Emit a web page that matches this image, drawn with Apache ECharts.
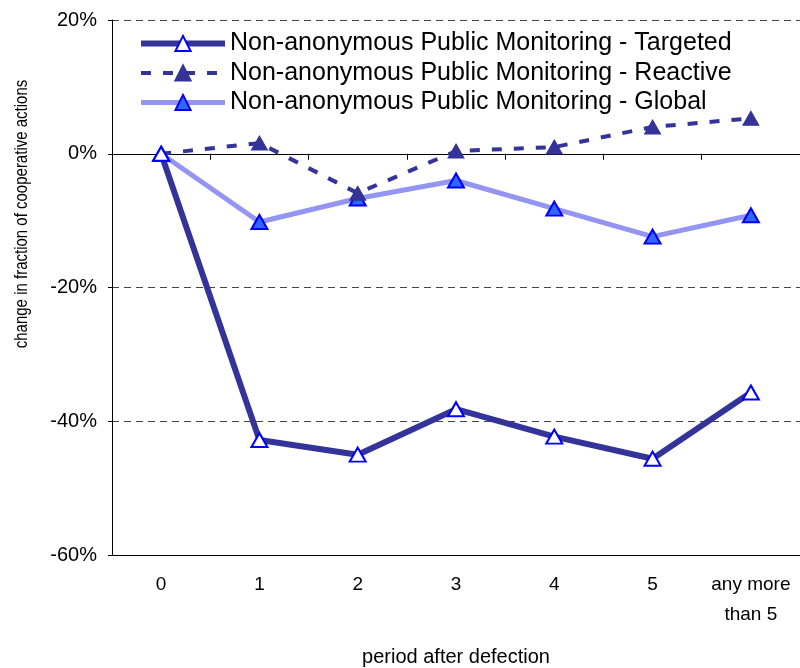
<!DOCTYPE html>
<html>
<head>
<meta charset="utf-8">
<script src="https://cdn.jsdelivr.net/npm/echarts@6/dist/echarts.min.js"></script>
<style>
  html, body { margin: 0; padding: 0; background: #fff; }
  #chart { width: 800px; height: 668px; }
</style>
</head>
<body>
<div id="chart"></div>
<script>
// periods after defection
var categories = ['0', '1', '2', '3', '4', '5', 'any more\nthan 5']

// change in fraction of cooperative actions, in %
var targeted = [0, -42.8, -45.0, -38.2, -42.3, -45.6, -35.7]
var reactive = [0, 1.6, -5.9, 0.4, 1.0, 4.0, 5.3]
var global = [0, -10.2, -6.7, -4.0, -8.2, -12.4, -9.2]

var seriesNames = [
  'Non-anonymous Public Monitoring - Targeted',
  'Non-anonymous Public Monitoring - Reactive',
  'Non-anonymous Public Monitoring - Global'
]

var font = 'Liberation Sans, Arial, sans-serif'

var chart = echarts.init(document.getElementById('chart'))

chart.setOption({
  animation: false,
  textStyle: { fontFamily: font },
  grid: {
    left: 112,
    right: 0,
    top: 20,
    bottom: 113,
    outerBoundsMode: 'none'
  },
  legend: {
    orient: 'vertical',
    left: 138,
    top: 31,
    padding: 0,
    itemWidth: 84,
    itemHeight: 19,
    itemGap: 4.5,
    lineStyle: { width: 'inherit' },
    textStyle: {
      fontSize: 25,
      lineHeight: 25,
      color: '#000',
      fontFamily: font
    },
    data: seriesNames
  },
  graphic: [
    {
      // y axis title, glyphs widened a little like the original
      type: 'text',
      x: 22,
      y: 214,
      rotation: Math.PI / 2,
      scaleY: 1.2,
      style: {
        text: 'change in fraction of cooperative actions',
        font: '15px Liberation Sans, Arial, sans-serif',
        fill: '#000',
        align: 'center',
        verticalAlign: 'middle'
      }
    }
  ],
  xAxis: [
    {
      type: 'category',
      data: categories,
      position: 'bottom',
      boundaryGap: true,
      axisLine: { onZero: false, lineStyle: { color: '#000', width: 1 } },
      axisTick: { show: false },
      axisLabel: {
        color: '#000',
        fontSize: 19,
        lineHeight: 30,
        margin: 15,
        interval: 0
      },
      name: 'period after defection',
      nameLocation: 'middle',
      nameGap: 92,
      nameTextStyle: { fontSize: 20, color: '#000' }
    },
    {
      // solid line with ticks at 0%
      type: 'category',
      data: categories,
      position: 'top',
      boundaryGap: true,
      axisLine: { onZero: true, lineStyle: { color: '#000', width: 1 } },
      axisTick: { show: true, inside: true, length: 6, lineStyle: { color: '#000' } },
      axisLabel: { show: false }
    }
  ],
  yAxis: {
    type: 'value',
    min: -60,
    max: 20,
    interval: 20,
    axisLine: { show: true, lineStyle: { color: '#000', width: 1 } },
    axisTick: { show: true, length: 4, lineStyle: { color: '#000' } },
    axisLabel: {
      color: '#000',
      fontSize: 20,
      margin: 15,
      formatter: '{value}%'
    },
    splitLine: {
      show: true,
      lineStyle: { color: '#444', type: [7, 5], width: 1 }
    }
  },
  series: [
    {
      name: seriesNames[0],
      type: 'line',
      xAxisIndex: 0,
      data: targeted,
      z: 5,
      symbol: 'triangle',
      symbolSize: [16, 14],
      lineStyle: { color: '#333399', width: 6 },
      itemStyle: { color: '#ffffff', borderColor: '#0000ff', borderWidth: 2 }
    },
    {
      name: seriesNames[1],
      type: 'line',
      xAxisIndex: 0,
      data: reactive,
      z: 4,
      symbol: 'triangle',
      symbolSize: [16, 14],
      lineStyle: { color: '#333399', width: 4, type: [10, 12] },
      itemStyle: { color: '#333399', borderColor: '#333399', borderWidth: 1 }
    },
    {
      name: seriesNames[2],
      type: 'line',
      xAxisIndex: 0,
      data: global,
      z: 3,
      symbol: 'triangle',
      symbolSize: [16, 14],
      lineStyle: { color: '#9494f2', width: 5 },
      itemStyle: { color: '#3366ff', borderColor: '#0000ff', borderWidth: 2 }
    }
  ]
})
</script>
</body>
</html>
